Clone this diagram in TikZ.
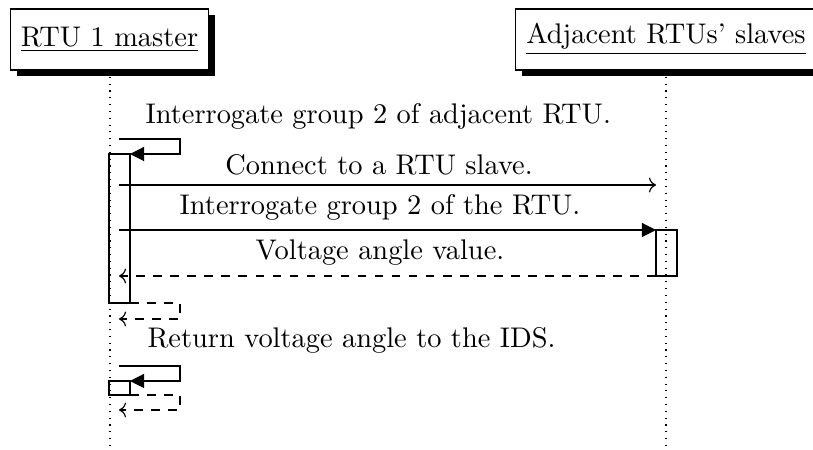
\documentclass[tikz,border=0pt]{standalone}
\usetikzlibrary{arrows.meta,shadows}
\begin{document}
\begin{tikzpicture}[x=0.3521pt,y=-0.3521pt,
  header/.style={draw, fill=white, inner xsep=3.7pt, inner ysep=0pt, minimum height=21.5pt,
    drop shadow={shadow xshift=2.2pt,shadow yshift=-2.2pt,fill=black,opacity=1}},
  lifeline/.style={dotted},
  actbar/.style={draw},
  callarrow/.style={-{Triangle[length=5pt,width=5pt]}},
  msgarrow/.style={-{To}},
  retarrow/.style={dashed,-{To}},
  lbl/.style={inner sep=0pt, anchor=base},
  lblw/.style={inner sep=0pt, anchor=base west}]
\clip (0,0) rectangle (813,450);
% headers
\node[header] (m) at (109.5,39.5) {\underline{RTU 1 master}};
\node[header] (s) at (666,39.5) {\underline{Adjacent RTUs' slaves}};
% lifelines
\coordinate (mtop) at (110,70);
\coordinate (mend) at (110,450);
\coordinate (stop) at (666,70);
\coordinate (send) at (666,450);
\draw[lifeline] (mtop) -- (mend);
\draw[lifeline] (stop) -- (send);
% activation bars
\draw[actbar] (109,154) rectangle (130,303);
\draw[actbar] (656,230) rectangle (677,276);
\draw[actbar] (109,381) rectangle (130,395);
% self call 1
\coordinate (c1a) at (119,139);
\coordinate (c1b) at (180,139);
\coordinate (c1c) at (180,154);
\coordinate (c1d) at (130,154);
\draw[callarrow] (c1a) -- (c1b) -- (c1c) -- (c1d);
\node[lblw] (l1) at (145,124) {Interrogate group 2 of adjacent RTU.};
% connect
\coordinate (c2a) at (119,185);
\coordinate (c2b) at (656,185);
\draw[msgarrow] (c2a) -- (c2b);
\node[lbl] (l2) at (379,175) {Connect to a RTU slave.};
% interrogate RTU
\coordinate (c3a) at (119,230);
\coordinate (c3b) at (656,230);
\draw[callarrow] (c3a) -- (c3b);
\node[lbl] (l3) at (380,215) {Interrogate group 2 of the RTU.};
% voltage angle value
\coordinate (c4a) at (656,276);
\coordinate (c4b) at (119,276);
\draw[retarrow] (c4a) -- (c4b);
\node[lbl] (l4) at (380,260) {Voltage angle value.};
% return 1
\coordinate (r1a) at (130,303);
\coordinate (r1b) at (180,303);
\coordinate (r1c) at (180,319);
\coordinate (r1d) at (119,319);
\draw[retarrow] (r1a) -- (r1b) -- (r1c) -- (r1d);
% self call 2
\node[lblw] (l5) at (147,348) {Return voltage angle to the IDS.};
\coordinate (c5a) at (119,366);
\coordinate (c5b) at (180,366);
\coordinate (c5c) at (180,381);
\coordinate (c5d) at (130,381);
\draw[callarrow] (c5a) -- (c5b) -- (c5c) -- (c5d);
% return 2
\coordinate (r2a) at (130,395);
\coordinate (r2b) at (180,395);
\coordinate (r2c) at (180,410);
\coordinate (r2d) at (119,410);
\draw[retarrow] (r2a) -- (r2b) -- (r2c) -- (r2d);
\end{tikzpicture}
\end{document}
